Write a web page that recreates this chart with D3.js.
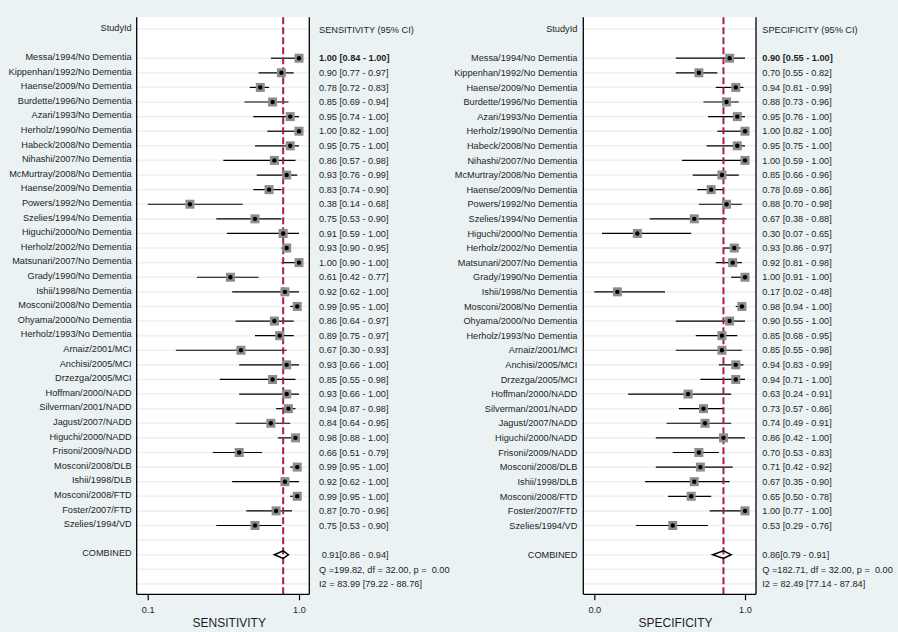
<!DOCTYPE html>
<html>
<head>
<meta charset="utf-8">
<script src="https://cdn.jsdelivr.net/npm/d3@7"></script>
<style>
  html, body { margin: 0; padding: 0; background: #eaf2f3; }
  svg { display: block; }
  text { font-family: "Liberation Sans", Arial, Helvetica, sans-serif; fill: #1e1e1e; }
</style>
</head>
<body>
<svg id="chart" width="898" height="632"></svg>
<script>
// ---------------- DATA ----------------
const studies = [
  "Messa/1994/No Dementia", "Kippenhan/1992/No Dementia", "Haense/2009/No Dementia",
  "Burdette/1996/No Dementia", "Azari/1993/No Dementia", "Herholz/1990/No Dementia",
  "Habeck/2008/No Dementia", "Nihashi/2007/No Dementia", "McMurtray/2008/No Dementia",
  "Haense/2009/No Dementia", "Powers/1992/No Dementia", "Szelies/1994/No Dementia",
  "Higuchi/2000/No Dementia", "Herholz/2002/No Dementia", "Matsunari/2007/No Dementia",
  "Grady/1990/No Dementia", "Ishii/1998/No Dementia", "Mosconi/2008/No Dementia",
  "Ohyama/2000/No Dementia", "Herholz/1993/No Dementia", "Arnaiz/2001/MCI",
  "Anchisi/2005/MCI", "Drzezga/2005/MCI", "Hoffman/2000/NADD", "Silverman/2001/NADD",
  "Jagust/2007/NADD", "Higuchi/2000/NADD", "Frisoni/2009/NADD", "Mosconi/2008/DLB",
  "Ishii/1998/DLB", "Mosconi/2008/FTD", "Foster/2007/FTD", "Szelies/1994/VD"
];

const sens   = [1.00,0.90,0.78,0.85,0.95,1.00,0.95,0.86,0.93,0.83,0.38,0.75,0.91,0.93,1.00,0.61,0.92,0.99,0.86,0.89,0.67,0.93,0.85,0.93,0.94,0.84,0.98,0.66,0.99,0.92,0.99,0.87,0.75];
const sensLo = [0.84,0.77,0.72,0.69,0.74,0.82,0.75,0.57,0.76,0.74,0.14,0.53,0.59,0.90,0.90,0.42,0.62,0.95,0.64,0.75,0.30,0.66,0.55,0.66,0.87,0.64,0.88,0.51,0.95,0.62,0.95,0.70,0.53];
const sensHi = [1.00,0.97,0.83,0.94,1.00,1.00,1.00,0.98,0.99,0.90,0.68,0.90,1.00,0.95,1.00,0.77,1.00,1.00,0.97,0.97,0.93,1.00,0.98,1.00,0.98,0.95,1.00,0.79,1.00,1.00,1.00,0.96,0.90];

const spec   = [0.90,0.70,0.94,0.88,0.95,1.00,0.95,1.00,0.85,0.78,0.88,0.67,0.30,0.93,0.92,1.00,0.17,0.98,0.90,0.85,0.85,0.94,0.94,0.63,0.73,0.74,0.86,0.70,0.71,0.67,0.65,1.00,0.53];
const specLo = [0.55,0.55,0.81,0.73,0.76,0.82,0.75,0.59,0.66,0.69,0.70,0.38,0.07,0.86,0.81,0.91,0.02,0.94,0.55,0.68,0.55,0.83,0.71,0.24,0.57,0.49,0.42,0.53,0.42,0.35,0.50,0.77,0.29];
const specHi = [1.00,0.82,0.99,0.96,1.00,1.00,1.00,1.00,0.96,0.86,0.98,0.88,0.65,0.97,0.98,1.00,0.48,1.00,1.00,0.95,0.98,0.99,1.00,0.91,0.86,0.91,1.00,0.83,0.92,0.90,0.78,1.00,0.76];

// combined estimate [est, lo, hi], heterogeneity Q, df, p, I2 [est, lo, hi]
const sensCombined = [0.91, 0.86, 0.94];
const sensQ = [199.82, 32.00, 0.00];
const sensI2 = [83.99, 79.22, 88.76];
const specCombined = [0.86, 0.79, 0.91];
const specQ = [182.71, 32.00, 0.00];
const specI2 = [82.49, 77.14, 87.84];

// axis ticks (placed at min/max of the CIs, labelled with 1 decimal)
const sensTicks = [0.14, 1.00];
const specTicks = [0.02, 1.00];

const axisTitles = ["SENSITIVITY", "SPECIFICITY"];
const headers = ["SENSITIVITY (95% CI)", "SPECIFICITY (95% CI)"];
const studyHeader = "StudyId";
const combinedLabel = "COMBINED";

// ---------------- DRAW ----------------
const svg = d3.select("#chart");
const W = 898, H = 632;
svg.append("rect").attr("width", W).attr("height", H).attr("fill", "#eaf2f3");

const FS = 9.2;
// row index: -2 header, 0..32 studies, 34 combined, 35 Q, 36 I2
const y = d3.scaleLinear().domain([-2, 36]).range([29, 583.9]);
const plotTop = 17.3, plotBottom = 594.3;

const f2 = d3.format(".2f");

const panels = [
  { est: sens, lo: sensLo, hi: sensHi, comb: sensCombined, q: sensQ, i2: sensI2, ticks: sensTicks,
    px0: 136.7, px1: 309.3, ax0: 147.7, ax1: 299, labelX: 131.7, valX: 319, combDx: 2.7,
    labelDy: -1.5, titleX: 229.3, header: headers[0], title: axisTitles[0] },
  { est: spec, lo: specLo, hi: specHi, comb: specCombined, q: specQ, i2: specI2, ticks: specTicks,
    px0: 583.3, px1: 756, ax0: 594.3, ax1: 745, labelX: 577.3, valX: 762.3, combDx: 0,
    labelDy: 0, titleX: 675.5, header: headers[1], title: axisTitles[1] }
];

panels.forEach(P => {
  const g = svg.append("g");
  const x = d3.scaleLinear().domain(P.ticks).range([P.ax0, P.ax1]);

  // plot region
  g.append("rect").attr("x", P.px0).attr("y", plotTop)
    .attr("width", P.px1 - P.px0).attr("height", plotBottom - plotTop).attr("fill", "#ffffff");

  // gridlines at rows
  const gridRows = [-2].concat(d3.range(0, 37));
  g.selectAll(".grid").data(gridRows).enter().append("line")
    .attr("x1", P.px0).attr("x2", P.px1)
    .attr("y1", d => y(d)).attr("y2", d => y(d))
    .attr("stroke", "#eaf2f3").attr("stroke-width", 1.6);

  const rows = studies.map((s, i) => ({ s, i, e: P.est[i], lo: P.lo[i], hi: P.hi[i] }));

  // CI lines
  g.selectAll(".ci").data(rows).enter().append("line")
    .attr("x1", d => x(d.lo)).attr("x2", d => x(d.hi))
    .attr("y1", d => y(d.i)).attr("y2", d => y(d.i))
    .attr("stroke", "#000").attr("stroke-width", 1.2);

  // reference line at combined estimate
  g.append("line")
    .attr("x1", x(P.comb[0])).attr("x2", x(P.comb[0]))
    .attr("y1", plotTop).attr("y2", plotBottom)
    .attr("stroke", "#a8203a").attr("stroke-width", 2).attr("stroke-dasharray", "7,3");

  // squares + dots
  const sq = 9;
  g.selectAll(".sq").data(rows).enter().append("rect")
    .attr("x", d => x(d.e) - sq / 2).attr("y", d => y(d.i) - sq / 2)
    .attr("width", sq).attr("height", sq).attr("fill", "#8c8c8c");
  g.selectAll(".dot").data(rows).enter().append("circle")
    .attr("cx", d => x(d.e)).attr("cy", d => y(d.i)).attr("r", 2.2).attr("fill", "#000");

  // combined diamond
  const cy = y(34), dh = 3.8;
  g.append("path")
    .attr("d", `M${x(P.comb[1])},${cy} L${x(P.comb[0])},${cy - dh} L${x(P.comb[2])},${cy} L${x(P.comb[0])},${cy + dh} Z`)
    .attr("fill", "none").attr("stroke", "#000").attr("stroke-width", 1.5);

  // frame: left, right, bottom
  g.append("line").attr("x1", P.px0).attr("x2", P.px0).attr("y1", plotTop).attr("y2", plotBottom)
    .attr("stroke", "#000").attr("stroke-width", 1.3);
  g.append("line").attr("x1", P.px1).attr("x2", P.px1).attr("y1", plotTop).attr("y2", plotBottom)
    .attr("stroke", "#000").attr("stroke-width", 1.3);
  g.append("line").attr("x1", P.px0).attr("x2", P.px1).attr("y1", plotBottom).attr("y2", plotBottom)
    .attr("stroke", "#000").attr("stroke-width", 1.3);

  // axis
  const axis = d3.axisBottom(x).tickValues(P.ticks).tickFormat(d3.format(".1f"))
    .tickSize(6).tickPadding(6);
  const ag = g.append("g").attr("transform", `translate(0,${plotBottom})`).call(axis);
  ag.select(".domain").remove();
  ag.selectAll(".tick line").attr("stroke", "#000").attr("stroke-width", 1.2);
  ag.selectAll(".tick text").attr("font-size", FS).attr("fill", "#1e1e1e")
    .attr("font-family", "'Liberation Sans', Arial, sans-serif");

  g.append("text").attr("x", P.titleX).attr("y", 626.7).attr("text-anchor", "middle")
    .attr("font-size", 12).text(P.title);

  // study labels
  g.append("text").attr("x", P.labelX).attr("y", y(-2) + P.labelDy).attr("dy", "0.35em")
    .attr("text-anchor", "end").attr("font-size", FS).text(studyHeader);
  g.selectAll(".lab").data(rows).enter().append("text")
    .attr("x", P.labelX).attr("y", d => y(d.i) + P.labelDy).attr("dy", "0.35em")
    .attr("text-anchor", "end").attr("font-size", FS).text(d => d.s);
  g.append("text").attr("x", P.labelX).attr("y", y(34) + P.labelDy).attr("dy", "0.35em")
    .attr("text-anchor", "end").attr("font-size", FS).text(combinedLabel);

  // value column
  g.append("text").attr("x", P.valX).attr("y", y(-2) + 1).attr("dy", "0.35em")
    .attr("font-size", FS).text(P.header);
  g.selectAll(".val").data(rows).enter().append("text")
    .attr("x", P.valX).attr("y", d => y(d.i)).attr("dy", "0.35em")
    .attr("font-size", FS).attr("font-weight", d => d.i === 0 ? "bold" : "normal")
    .text(d => `${f2(d.e)} [${f2(d.lo)} - ${f2(d.hi)}]`);
  g.append("text").attr("x", P.valX + P.combDx).attr("y", y(34)).attr("dy", "0.35em")
    .attr("font-size", FS).text(`${f2(P.comb[0])}[${f2(P.comb[1])} - ${f2(P.comb[2])}]`);
  g.append("text").attr("x", P.valX).attr("y", y(35)).attr("dy", "0.35em")
    .attr("font-size", FS).style("white-space", "pre")
    .text(`Q =${f2(P.q[0])}, df = ${f2(P.q[1])}, p =  ${f2(P.q[2])}`);
  g.append("text").attr("x", P.valX).attr("y", y(36)).attr("dy", "0.35em")
    .attr("font-size", FS)
    .text(`I2 = ${f2(P.i2[0])} [${f2(P.i2[1])} - ${f2(P.i2[2])}]`);
});
</script>
</body>
</html>
